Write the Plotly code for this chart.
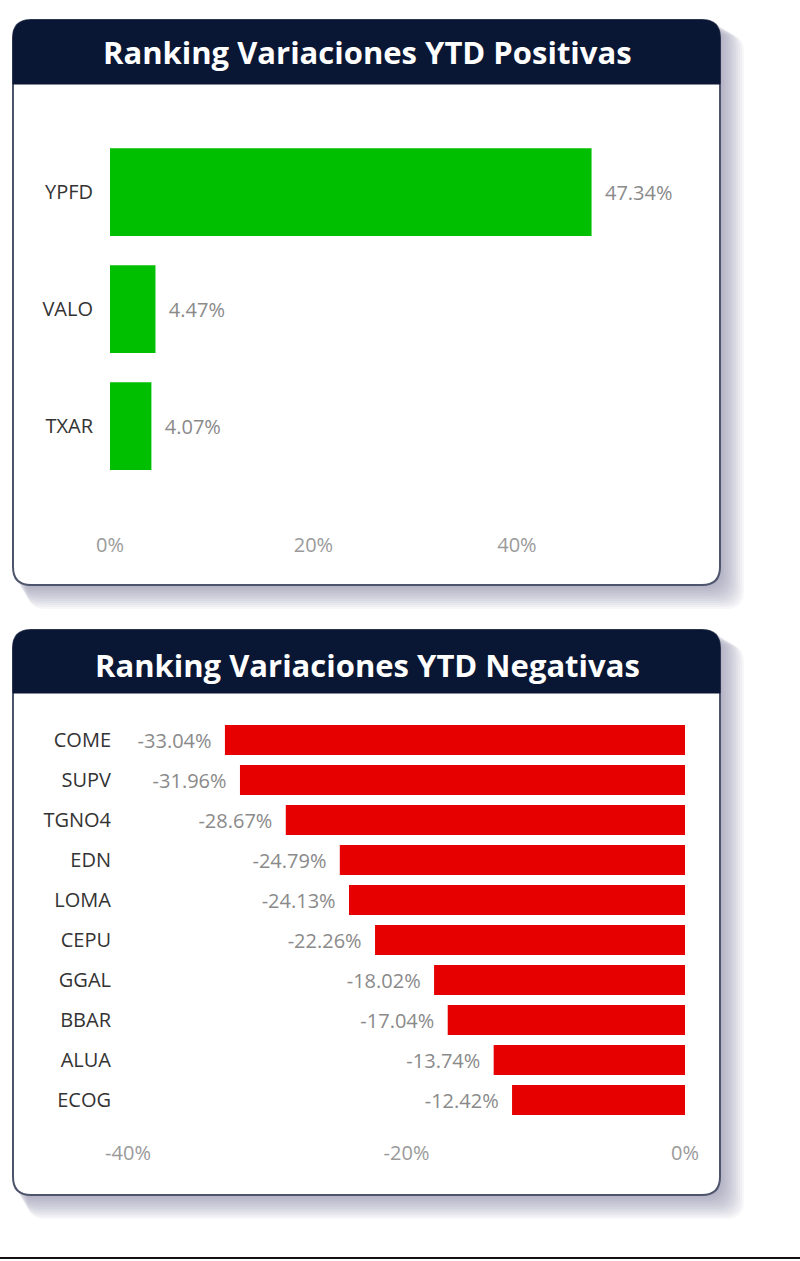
import plotly.graph_objects as go

# datos
pos_tickers = ["YPFD", "VALO", "TXAR"]
pos_values = [47.34, 4.47, 4.07]

neg_tickers = ["COME", "SUPV", "TGNO4", "EDN", "LOMA", "CEPU", "GGAL", "BBAR", "ALUA", "ECOG"]
neg_values = [-33.04, -31.96, -28.67, -24.79, -24.13, -22.26, -18.02, -17.04, -13.74, -12.42]

pos_ticks = [0, 20, 40]
pos_ticktext = ["0%", "20%", "40%"]
neg_ticks = [-40, -20, 0]
neg_ticktext = ["-40%", "-20%", "0%"]

W, H = 800, 1261
NAVY = "#0a1734"
NBSP = "\u00a0"


def px(x):
    return x / W


def py(y):
    return 1 - y / H


def rounded(x0, y0, x1, y1, r, top_only=False):
    # rounded rect path in paper coords, built from pixel values
    pts = []
    pts.append("M %f,%f" % (px(x0 + r), py(y0)))
    pts.append("L %f,%f" % (px(x1 - r), py(y0)))
    pts.append("Q %f,%f %f,%f" % (px(x1), py(y0), px(x1), py(y0 + r)))
    if top_only:
        pts.append("L %f,%f" % (px(x1), py(y1)))
        pts.append("L %f,%f" % (px(x0), py(y1)))
    else:
        pts.append("L %f,%f" % (px(x1), py(y1 - r)))
        pts.append("Q %f,%f %f,%f" % (px(x1), py(y1), px(x1 - r), py(y1)))
        pts.append("L %f,%f" % (px(x0 + r), py(y1)))
        pts.append("Q %f,%f %f,%f" % (px(x0), py(y1), px(x0), py(y1 - r)))
    pts.append("L %f,%f" % (px(x0), py(y0 + r)))
    pts.append("Q %f,%f %f,%f" % (px(x0), py(y0), px(x0 + r), py(y0)))
    pts.append("Z")
    return " ".join(pts)


shapes = []
for (top, bottom, hdr) in [(20, 585, 84), (630, 1195, 693)]:
    # sombra
    for k in range(1, 13):
        d = k * 2.0
        shapes.append(dict(type="path", xref="paper", yref="paper",
                           path=rounded(13 + d * 0.6, top + d * 0.6, 720 + d, bottom + d, 18),
                           fillcolor="#737a94", opacity=0.06, line=dict(width=0), layer="below"))
    shapes.append(dict(type="path", xref="paper", yref="paper",
                       path=rounded(13, top, 720, bottom, 18),
                       fillcolor="white", line=dict(color="#4d546b", width=2), layer="below"))
    shapes.append(dict(type="path", xref="paper", yref="paper",
                       path=rounded(13, top, 720, hdr, 18, top_only=True),
                       fillcolor=NAVY, line=dict(color=NAVY, width=1), layer="below"))

shapes.append(dict(type="line", xref="paper", yref="paper", x0=0, x1=1, y0=py(1258), y1=py(1258),
                   line=dict(color="#111111", width=2)))

fig = go.Figure()

fig.add_trace(go.Bar(
    x=pos_values, y=pos_tickers, orientation="h",
    marker=dict(color="#00bf00", line=dict(width=0)),
    text=[NBSP * 2 + "%.2f%%" % v for v in pos_values], textposition="outside",
    textfont=dict(color="#8a8a8a", size=20), cliponaxis=False,
    xaxis="x", yaxis="y",
))

fig.add_trace(go.Bar(
    x=neg_values, y=neg_tickers, orientation="h",
    marker=dict(color="#e60000", line=dict(width=0)),
    text=["%.2f%%" % v + NBSP * 2 for v in neg_values], textposition="outside",
    textfont=dict(color="#8a8a8a", size=20), cliponaxis=False,
    xaxis="x2", yaxis="y2",
))

tickfont_cat = dict(color="#333333", size=20)
tickfont_val = dict(color="#9a9a9a", size=20)

fig.update_layout(
    width=W, height=H,
    margin=dict(l=0, r=0, t=0, b=0, autoexpand=False),
    paper_bgcolor="white", plot_bgcolor="rgba(0,0,0,0)",
    font=dict(family="Open Sans"),
    showlegend=False,
    bargap=0.25,
    shapes=shapes,
    xaxis=dict(domain=[px(110), px(700)], range=[0, 58.0], tickmode="array",
               tickvals=pos_ticks, ticktext=pos_ticktext,
               showgrid=False, zeroline=False, showline=False, tickfont=tickfont_val,
               anchor="y", ticklabelstandoff=46, automargin=False),
    yaxis=dict(domain=[py(484.5), py(133.5)], categoryorder="array",
               categoryarray=pos_tickers[::-1], showgrid=False, zeroline=False,
               tickfont=tickfont_cat, anchor="x", ticklabelstandoff=16, automargin=False),
    xaxis2=dict(domain=[px(128), px(685)], range=[-40, 0], tickmode="array",
                tickvals=neg_ticks, ticktext=neg_ticktext,
                showgrid=False, zeroline=False, showline=False, tickfont=tickfont_val,
                anchor="y2", ticklabelstandoff=19, automargin=False),
    yaxis2=dict(domain=[py(1120), py(720)], categoryorder="array",
                categoryarray=neg_tickers[::-1], showgrid=False, zeroline=False,
                tickfont=tickfont_cat, anchor="x2", ticklabelstandoff=16, automargin=False),
    annotations=[
        dict(text="<b>Ranking Variaciones YTD Positivas</b>", x=px(367), y=py(52),
             xref="paper", yref="paper", showarrow=False, xanchor="center", yanchor="middle",
             font=dict(color="white", size=31, family="Open Sans")),
        dict(text="<b>Ranking Variaciones YTD Negativas</b>", x=px(367), y=py(665),
             xref="paper", yref="paper", showarrow=False, xanchor="center", yanchor="middle",
             font=dict(color="white", size=31, family="Open Sans")),
    ],
)

fig.write_html("out.html", config={"displayModeBar": False},
               post_script="document.body.style.margin='0';")
